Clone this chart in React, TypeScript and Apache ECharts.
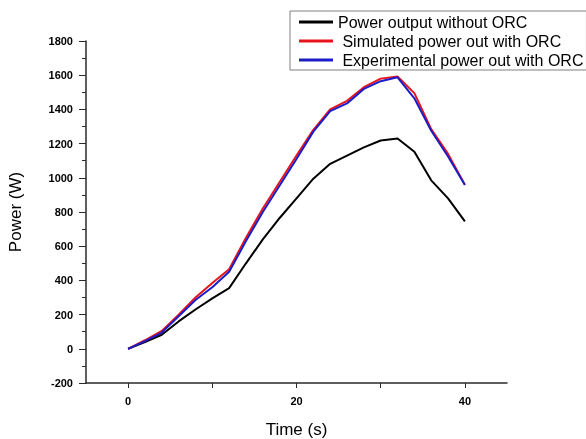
import React, { useEffect, useRef } from "react";
import * as echarts from "echarts";

const times = [0, 2, 4, 6, 8, 10, 12, 14, 16, 18, 20, 22, 24, 26, 28, 30, 32, 34, 36, 38, 40];
const withoutOrc = [0, 40, 82, 160, 230, 295, 355, 500, 640, 765, 880, 995, 1082, 1130, 1178, 1218, 1230, 1152, 985, 880, 745];
const simulatedOrc = [0, 50, 105, 200, 300, 385, 465, 650, 820, 975, 1130, 1280, 1400, 1450, 1530, 1580, 1592, 1495, 1285, 1140, 960];
const experimentalOrc = [0, 45, 95, 190, 285, 360, 450, 630, 800, 955, 1110, 1270, 1390, 1435, 1520, 1565, 1588, 1465, 1275, 1125, 958];

const seriesNames = ["Power output without ORC", " Simulated power out with ORC", " Experimental power out with ORC"];
const seriesColors = ["#000000", "#e8141c", "#1c1cc8"];
const xLabelValues = [0, 20, 40];
const xTickValues = [0, 10, 20, 30, 40];

export default function App() {
  const ref = useRef<HTMLDivElement>(null);
  useEffect(() => {
    if (!ref.current) return;
    const chart = echarts.init(ref.current, null, { renderer: "svg" });
    const dataSets = [withoutOrc, simulatedOrc, experimentalOrc];
    const font = "Arial, 'Liberation Sans', sans-serif";
    const plain = (v: number) => String(v);
    chart.setOption({
      animation: false,
      grid: { left: 86, right: 79, top: 41, bottom: 56, outerBoundsMode: "none" },
      legend: {
        orient: "vertical",
        left: 290,
        top: 11,
        padding: [3, 3, 2, 9],
        itemGap: 3,
        itemWidth: 34,
        itemHeight: 3,
        icon: "rect",
        borderColor: "#808080",
        borderWidth: 1,
        textStyle: { fontSize: 16, color: "#000", fontFamily: font, lineHeight: 16 },
        data: seriesNames,
      },
      xAxis: {
        type: "value",
        min: -5,
        max: 45,
        name: "Time (s)",
        nameLocation: "middle",
        nameGap: 38,
        nameTextStyle: { fontSize: 17, color: "#000", fontFamily: font },
        axisLine: { show: true, onZero: false, lineStyle: { color: "#2a2a2a", width: 1.5 } },
        axisTick: { show: true, length: 5, customValues: xTickValues, lineStyle: { color: "#2a2a2a" } },
        axisLabel: { customValues: xLabelValues, formatter: plain, fontSize: 11, fontWeight: "bold", color: "#000", margin: 12, fontFamily: font },
        splitLine: { show: false },
      },
      yAxis: {
        type: "value",
        min: -200,
        max: 1800,
        interval: 200,
        name: "Power (W)",
        nameLocation: "middle",
        nameGap: 62,
        nameTextStyle: { fontSize: 17, color: "#000", fontFamily: font },
        axisLine: { show: true, onZero: false, lineStyle: { color: "#2a2a2a", width: 1.5 } },
        axisTick: { show: true, length: 7, lineStyle: { color: "#2a2a2a" } },
        minorTick: { show: true, splitNumber: 2, length: 4, lineStyle: { color: "#2a2a2a" } },
        axisLabel: { formatter: plain, fontSize: 11, fontWeight: "bold", color: "#000", margin: 13, fontFamily: font },
        splitLine: { show: false },
      },
      series: dataSets.map((vals, i) => ({
        name: seriesNames[i],
        type: "line",
        data: times.map((t, j) => [t, vals[j]]),
        symbol: "none",
        color: seriesColors[i],
        lineStyle: { width: 2, color: seriesColors[i] },
        z: 2 + i,
      })),
    });
    return () => chart.dispose();
  }, []);
  return (
    <div
      ref={ref}
      style={{ position: "fixed", left: 0, top: 0, width: 586, height: 439 }}
    />
  );
}
